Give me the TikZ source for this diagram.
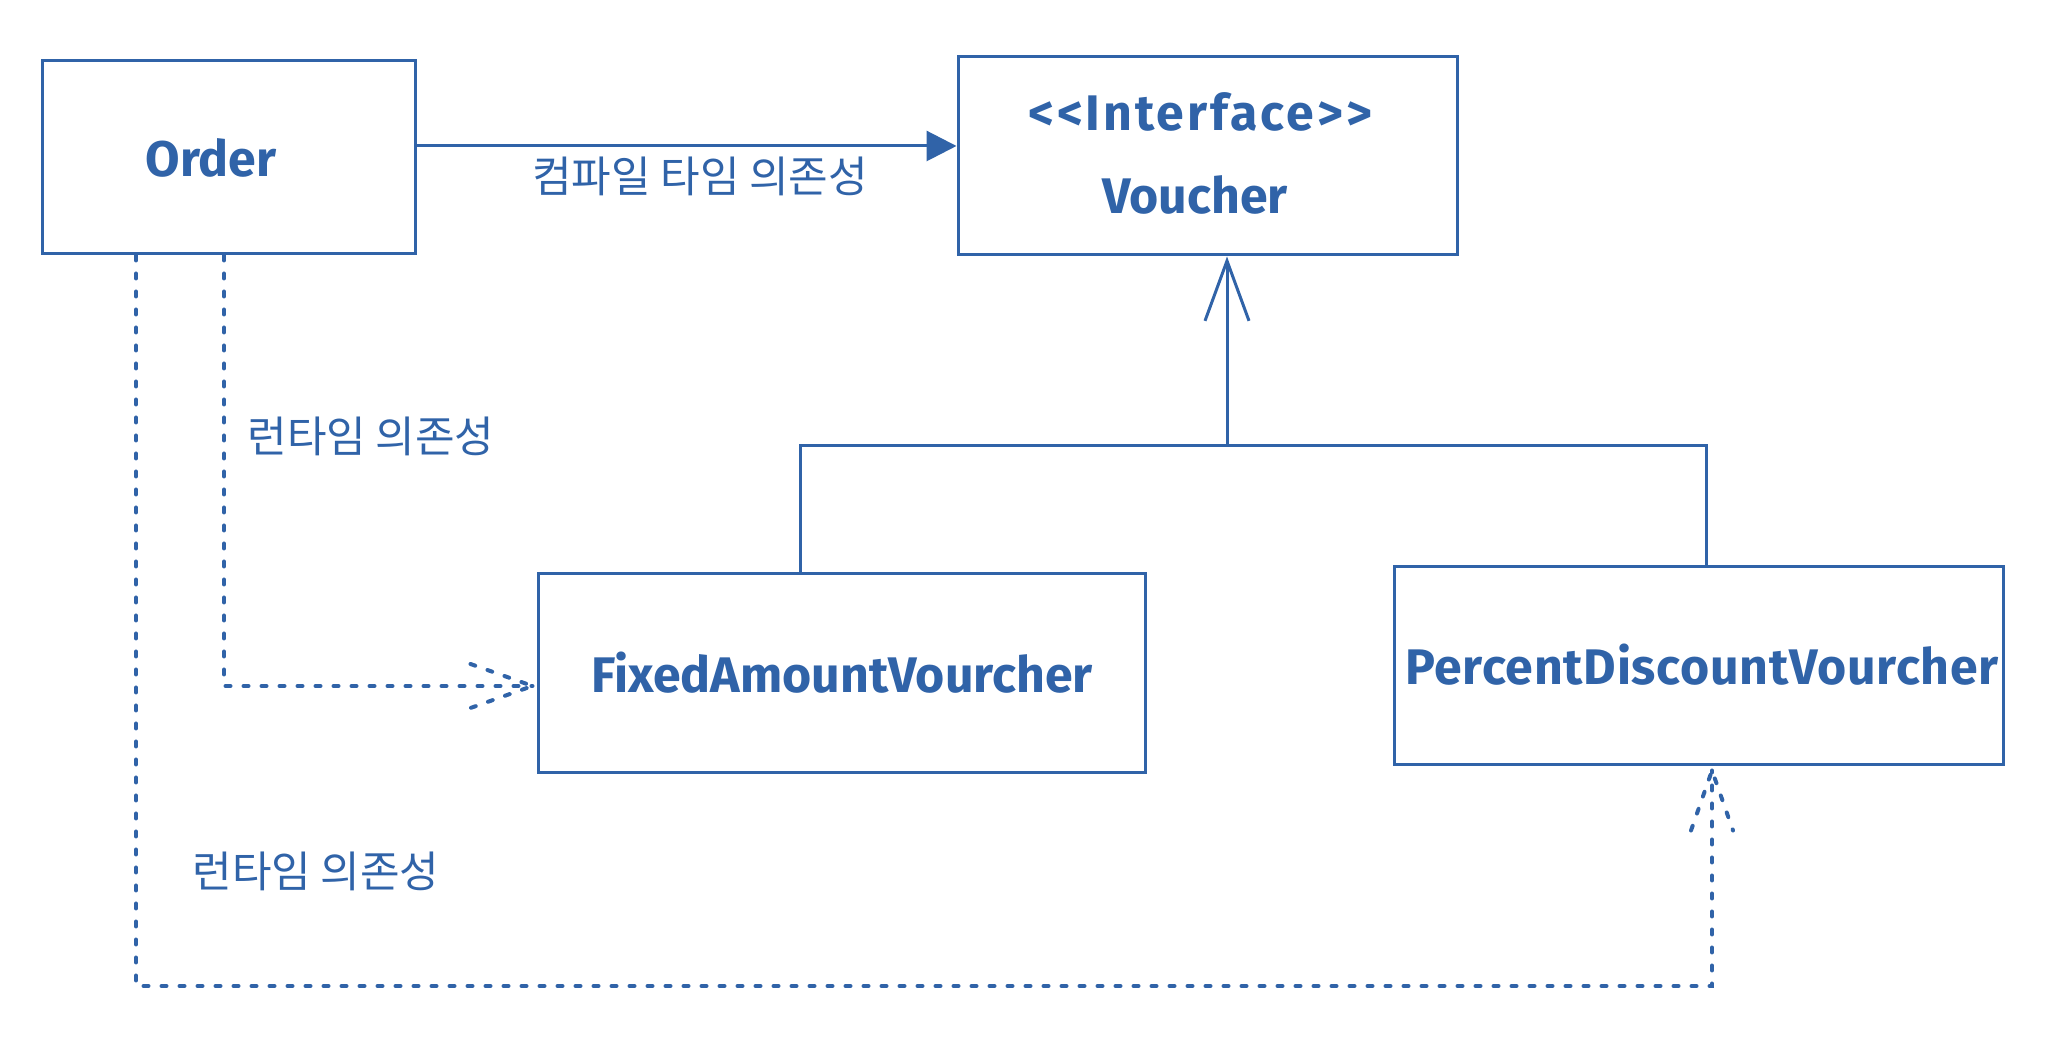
\documentclass[tikz,border=0pt]{standalone}
\usepackage{fontspec}
\setmainfont{Fira Sans}
\newfontfamily\kr{Noto Sans CJK KR}
\usetikzlibrary{arrows.meta,calc}
\definecolor{ink}{RGB}{48,99,168}
\tikzset{
  box/.style={draw=ink, line width=3pt, rectangle, inner sep=0pt},
  lbl/.style={text=ink, font=\bfseries\fontsize{50}{56}\selectfont},
  klbl/.style={text=ink, font=\kr\fontsize{43}{48}\selectfont},
  conn/.style={draw=ink, line width=3pt},
  dots/.style={draw=ink, line width=4pt, line cap=round, dash pattern=on 5pt off 13pt},
  barb/.style={-{Straight Barb[length=60pt,width=44pt,line width=3pt]}},
  fill tip/.style={-{Triangle[length=30pt,width=30pt]}}
}
\begin{document}
\begin{tikzpicture}[x=1pt,y=1pt]
\useasboundingbox (0,0) rectangle (2064,1052);
\node[box, minimum width=373pt, minimum height=193pt] (Order) at (228.5,894.5) {};
\node[lbl] (OrderT) at (211,894) {Order};
\node[box, minimum width=499pt, minimum height=198pt] (Voucher) at (1207.5,896) {};
\node[lbl] (VI) at (1200,940) {\addfontfeature{LetterSpace=6}{<}{<}Interface{>}{>}};
\node[lbl] (VV) at (1195,857) {Voucher};
\node[box, minimum width=607pt, minimum height=199pt] (Fixed) at (841.5,378.5) {};
\node[lbl] (FixedT) at (842,379) {FixedAmountVourcher};
\node[box, minimum width=609pt, minimum height=198pt] (Percent) at (1698.5,386) {};
\node[lbl] (PercentT) at (1702,387) {\addfontfeature{LetterSpace=1.5}PercentDiscountVourcher};

% compile-time dependency
\coordinate (cy) at (0,906);
\draw[conn, fill tip] (Order.east |- cy) -- (Voucher.west |- cy);
\node[klbl] (c1) at (700,876) {컴파일 타임 의존성};

% inheritance
\coordinate (J) at (1227,606);
\coordinate (hL) at (800,606);
\coordinate (hR) at (1706,606);
\draw[conn] (hL |- Fixed.north) -- (hL) -- (hR) -- (hR |- Percent.north);
\draw[conn, barb] (J) -- (J |- Voucher.south);

% runtime dependency 1
\coordinate (d1) at (224,366);
\coordinate (t1) at ($(d1 -| Fixed.west)+(-4,0)$);
\draw[dots] (d1 |- Order.south) -- (d1) -- (t1);
\draw[dots] ($(t1)+(-62,22)$) -- (t1) -- ($(t1)+(-62,-22)$);
\node[klbl] (r1) at (371,616) {런타임 의존성};

% runtime dependency 2
\coordinate (d2a) at (136,66);
\coordinate (d2b) at (1712,66);
\coordinate (t2) at ($(d2b |- Percent.south)+(0,-4)$);
\draw[dots] (d2a |- Order.south) -- (d2a) -- (d2b) -- (t2);
\draw[dots] ($(t2)+(-21,-60)$) -- (t2) -- ($(t2)+(21,-60)$);
\node[klbl] (r2) at (316,181) {런타임 의존성};
\end{tikzpicture}
\end{document}
